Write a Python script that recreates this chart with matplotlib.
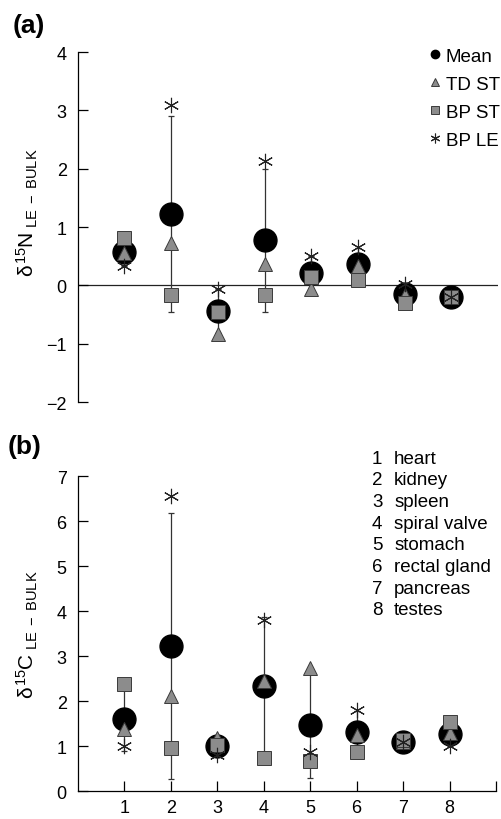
import matplotlib.pyplot as plt
from matplotlib.lines import Line2D

plt.rcParams['font.family'] = ['Liberation Sans', 'DejaVu Sans']
plt.rcParams['mathtext.fontset'] = 'custom'
plt.rcParams['mathtext.rm'] = 'Liberation Sans'
plt.rcParams['mathtext.it'] = 'Liberation Sans'

tissue = [1, 2, 3, 4, 5, 6, 7, 8]
organs = ["heart", "kidney", "spleen", "spiral valve", "stomach",
          "rectal gland", "pancreas", "testes"]

# (a) delta15N LE - BULK
n_mean = [0.58, 1.23, -0.44, 0.77, 0.21, 0.36, -0.15, -0.20]
n_sd = [0.24, 1.68, 0.38, 1.22, 0.29, 0.28, 0.16, 0.01]
n_td_st = [0.56, 0.73, -0.84, 0.36, -0.07, 0.33, -0.17, -0.20]
n_bp_st = [0.82, -0.17, -0.46, -0.17, 0.14, 0.10, -0.30, -0.20]
n_bp_le = [0.33, 3.09, -0.06, 2.13, 0.51, 0.65, 0.02, -0.20]

# (b) delta15C LE - BULK
c_mean = [1.61, 3.22, 1.00, 2.33, 1.46, 1.31, 1.10, 1.28]
c_sd = [0.72, 2.96, 0.19, 1.53, 1.16, 0.47, 0.02, 0.27]
c_td_st = [1.37, 2.11, 1.19, 2.44, 2.74, 1.25, 1.10, 1.30]
c_bp_st = [2.39, 0.95, 1.02, 0.74, 0.68, 0.87, 1.13, 1.54]
c_bp_le = [1.00, 6.57, 0.81, 3.80, 0.87, 1.81, 1.10, 1.00]

GRAY = "#8c8c8c"
EDGE = "#3a3a3a"
STAR = (6, 2, 0)


def draw_panel(ax, mean, sd, td, bp, le):
    ax.errorbar(tissue, mean, yerr=sd, fmt="none", ecolor="#333333",
                elinewidth=0.9, capsize=2.5, capthick=0.9, zorder=1)
    ax.plot(tissue, mean, "o", color="black", ms=16.5, zorder=2, ls="none")
    ax.plot(tissue, td, "^", color=GRAY, mec=EDGE, mew=0.7, ms=9.5, ls="none", zorder=3)
    ax.plot(tissue, bp, "s", color=GRAY, mec=EDGE, mew=0.7, ms=10, ls="none", zorder=4)
    ax.plot(tissue, le, marker=STAR, color="#222222", mew=0.8, ms=11, ls="none", zorder=5)
    ax.set_xlim(0, 9)
    ax.spines["top"].set_visible(False)
    ax.spines["right"].set_visible(False)
    ax.tick_params(axis="y", direction="in", length=7, width=0.9, pad=8, labelsize=13)
    ax.spines["left"].set_linewidth(0.9)


fig = plt.figure(figsize=(5.02, 8.2), dpi=100)

ax1 = fig.add_axes([0.155, 0.5085, 0.837, 0.4268])
draw_panel(ax1, n_mean, n_sd, n_td_st, n_bp_st, n_bp_le)
ax1.set_ylim(-2, 4)
ax1.set_yticks([-2, -1, 0, 1, 2, 3, 4])
ax1.axhline(0, color="#222222", lw=0.9, zorder=0.5)
ax1.spines["bottom"].set_visible(False)
ax1.set_xticks([])
ax1.set_ylabel(r"$\delta^{15}$N$_{\rm\ LE\ -\ BULK}$", fontsize=15)
ax1.yaxis.set_label_coords(-0.09, 0.545)

handles = [
    Line2D([], [], marker="o", color="black", ms=6, ls="none"),
    Line2D([], [], marker="^", color=GRAY, mec=EDGE, mew=0.7, ms=6, ls="none"),
    Line2D([], [], marker="s", color=GRAY, mec=EDGE, mew=0.7, ms=6, ls="none"),
    Line2D([], [], marker=STAR, color="#222222", mew=0.8, ms=7, ls="none"),
]
ax1.legend(handles, ["Mean", "TD ST", "BP ST", "BP LE"], loc="upper right",
           bbox_to_anchor=(1.045, 1.06), frameon=False, fontsize=13.5,
           handlelength=0.6, handletextpad=0.3, labelspacing=0.58)

ax2 = fig.add_axes([0.155, 0.034, 0.833, 0.384])
draw_panel(ax2, c_mean, c_sd, c_td_st, c_bp_st, c_bp_le)
ax2.set_ylim(0, 7)
ax2.set_yticks(range(0, 8))
ax2.set_xticks(range(1, 10))
ax2.set_xticklabels([str(t) for t in tissue] + [""])
ax2.tick_params(axis="x", direction="in", length=7, width=0.9, pad=6, labelsize=13)
ax2.spines["bottom"].set_linewidth(0.9)
ax2.set_ylabel(r"$\delta^{15}$C$_{\rm\ LE\ -\ BULK}$", fontsize=15)
ax2.yaxis.set_label_coords(-0.09, 0.5)

for i, (t, name) in enumerate(zip(tissue, organs)):
    y = 1 - (459 + i * 21.7) / 820
    fig.text(0.741, y, str(t), fontsize=13.5, va="center")
    fig.text(0.785, y, name, fontsize=13.5, va="center")

fig.text(0.025, 0.968, "(a)", fontsize=19, fontweight="bold", va="center")
fig.text(0.016, 0.455, "(b)", fontsize=19, fontweight="bold", va="center")

fig.savefig("out.png", dpi=100)
